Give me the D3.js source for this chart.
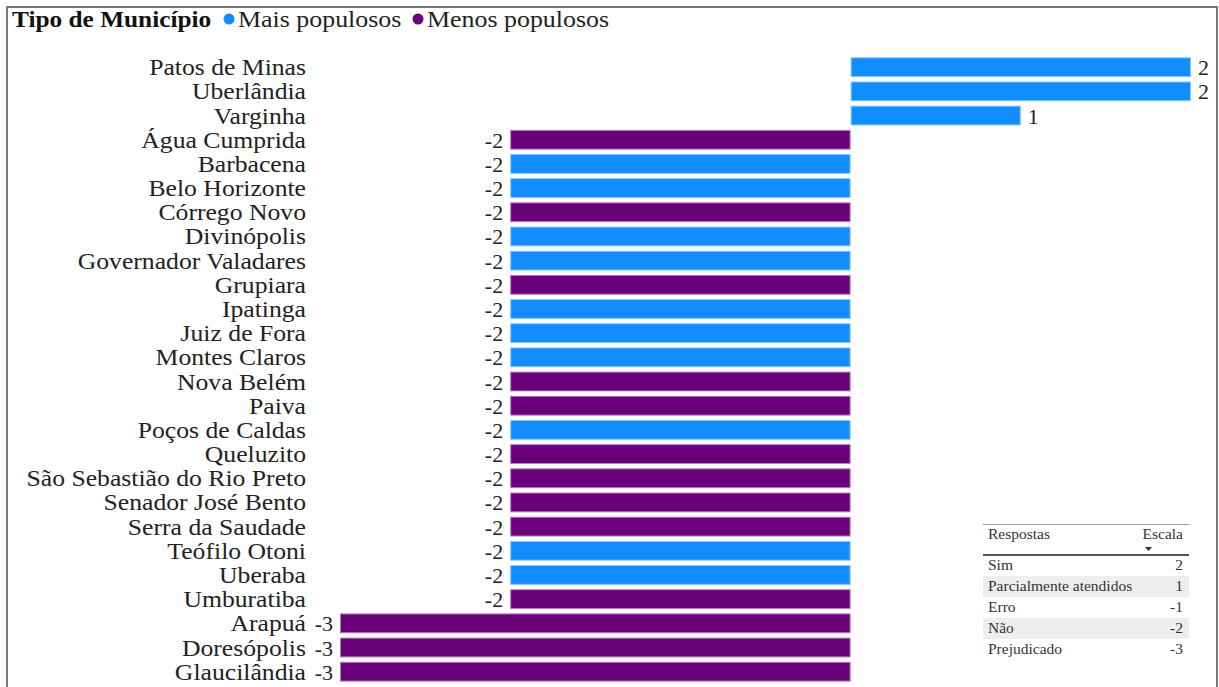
<!DOCTYPE html>
<html>
<head>
<meta charset="utf-8">
<script src="https://cdn.jsdelivr.net/npm/d3@7/dist/d3.min.js"></script>
<style>
  html, body { margin: 0; padding: 0; background: #fff; }
  svg { display: block; }
  text { font-family: "Liberation Serif", "Times New Roman", serif; }
</style>
</head>
<body>
<svg id="chart" width="1219" height="687"></svg>
<script>
// Municipalities, their score and their population group
const municipios = [
  "Patos de Minas", "Uberlândia", "Varginha", "Água Cumprida", "Barbacena",
  "Belo Horizonte", "Córrego Novo", "Divinópolis", "Governador Valadares",
  "Grupiara", "Ipatinga", "Juiz de Fora", "Montes Claros", "Nova Belém",
  "Paiva", "Poços de Caldas", "Queluzito", "São Sebastião do Rio Preto",
  "Senador José Bento", "Serra da Saudade", "Teófilo Otoni", "Uberaba",
  "Umburatiba", "Arapuá", "Doresópolis", "Glaucilândia"
];
const escala = [
  2, 2, 1, -2, -2,
  -2, -2, -2, -2,
  -2, -2, -2, -2, -2,
  -2, -2, -2, -2,
  -2, -2, -2, -2,
  -2, -3, -3, -3
];
const tipo = [
  "Mais", "Mais", "Mais", "Menos", "Mais",
  "Mais", "Menos", "Mais", "Mais",
  "Menos", "Mais", "Mais", "Mais", "Menos",
  "Menos", "Mais", "Menos", "Menos",
  "Menos", "Menos", "Mais", "Mais",
  "Menos", "Menos", "Menos", "Menos"
];

// Legend groups
const grupos = ["Mais", "Menos"];
const gruposRotulo = ["Mais populosos", "Menos populosos"];

// Answer scale reference table
const respostas = ["Sim", "Parcialmente atendidos", "Erro", "Não", "Prejudicado"];
const respostasValor = [2, 1, -1, -2, -3];

const data = municipios.map((m, i) => ({ nome: m, valor: escala[i], tipo: tipo[i] }));

const svg = d3.select("#chart");
const STRETCH = 1.07; // slightly wide serif lettering

const color = d3.scaleOrdinal().domain(grupos).range(["#118DFF", "#6B007B"]);
const stroke = d3.scaleOrdinal().domain(grupos).range(["#8cc6ff", "#b27fbb"]);

const x = d3.scaleLinear()
  .domain([d3.min(escala), d3.max(escala)])
  .range([340, 1191]);

const y = d3.scaleBand()
  .domain(municipios)
  .range([55.1, 55.1 + 24.18 * municipios.length])
  .paddingInner(0.18)
  .paddingOuter(0.09);

// Places a wide text at (px, py)
function wideText(sel, px, py, sx) {
  return sel.append("text")
    .attr("transform", `translate(${px},${py}) scale(${sx},1)`);
}

// Visual frame
svg.append("path")
  .attr("d", "M7,687 V7 H1217 V687")
  .attr("fill", "none")
  .attr("stroke", "#7a7a7a")
  .attr("stroke-width", 2);

// Legend
const legend = svg.append("g");
wideText(legend, 12, 27, 1.055)
  .attr("font-size", 24).attr("font-weight", "bold")
  .attr("fill", "#111")
  .text("Tipo de Município");
const legendX = [229, 418];
grupos.forEach((g, i) => {
  legend.append("circle")
    .attr("cx", legendX[i]).attr("cy", 19).attr("r", 5.5)
    .attr("fill", color(g));
  wideText(legend, legendX[i] + 9, 27, 1.08)
    .attr("font-size", 24).attr("fill", "#222")
    .text(gruposRotulo[i]);
});

// Bars
const bars = svg.append("g");
bars.selectAll("rect")
  .data(data)
  .join("rect")
  .attr("x", d => Math.min(x(0), x(d.valor)) + 0.5)
  .attr("y", d => y(d.nome) + 0.5)
  .attr("width", d => Math.abs(x(d.valor) - x(0)) - 1)
  .attr("height", y.bandwidth() - 1)
  .attr("fill", d => color(d.tipo))
  .attr("stroke", d => stroke(d.tipo))
  .attr("stroke-width", 1);

// Category labels
svg.append("g").selectAll("text")
  .data(data)
  .join("text")
  .attr("transform", d => `translate(306,${y(d.nome) + y.bandwidth() / 2 + 8}) scale(${STRETCH},1)`)
  .attr("text-anchor", "end")
  .attr("font-size", 24)
  .attr("fill", "#222")
  .text(d => d.nome);

// Value labels
svg.append("g").selectAll("text")
  .data(data)
  .join("text")
  .attr("x", d => d.valor >= 0 ? x(d.valor) + 7 : x(d.valor) - 7)
  .attr("y", d => y(d.nome) + y.bandwidth() / 2 + 8)
  .attr("text-anchor", d => d.valor >= 0 ? "start" : "end")
  .attr("font-size", 22)
  .attr("fill", "#222")
  .text(d => d.valor);

// Reference table
const tbl = svg.append("g");
const tLeft = 983, tRight = 1189, rowH = 21, rowTop = 555;
tbl.append("line")
  .attr("x1", tLeft).attr("x2", tRight).attr("y1", 524.5).attr("y2", 524.5)
  .attr("stroke", "#999").attr("stroke-width", 1);
tbl.append("text")
  .attr("x", tLeft + 5).attr("y", 539)
  .attr("font-size", 15.5).attr("fill", "#333")
  .text("Respostas");
tbl.append("text")
  .attr("x", tRight - 6).attr("y", 539)
  .attr("text-anchor", "end")
  .attr("font-size", 15.5).attr("fill", "#333")
  .text("Escala");
tbl.append("path")
  .attr("d", "M1145,547 L1152,547 L1148.5,551 Z")
  .attr("fill", "#333");
tbl.selectAll("rect.band")
  .data(respostas)
  .join("rect")
  .attr("class", "band")
  .attr("x", tLeft).attr("width", tRight - tLeft)
  .attr("y", (d, i) => rowTop + i * rowH)
  .attr("height", rowH)
  .attr("fill", (d, i) => i % 2 === 1 ? "#eeeeee" : "#ffffff");
tbl.append("line")
  .attr("x1", tLeft).attr("x2", tRight).attr("y1", 555).attr("y2", 555)
  .attr("stroke", "#555").attr("stroke-width", 2);
tbl.selectAll("text.rl")
  .data(respostas)
  .join("text")
  .attr("class", "rl")
  .attr("x", tLeft + 5)
  .attr("y", (d, i) => rowTop + i * rowH + 15)
  .attr("font-size", 15.5).attr("fill", "#333")
  .text(d => d);
tbl.selectAll("text.rv")
  .data(respostasValor)
  .join("text")
  .attr("class", "rv")
  .attr("x", tRight - 6)
  .attr("y", (d, i) => rowTop + i * rowH + 15)
  .attr("text-anchor", "end")
  .attr("font-size", 15.5).attr("fill", "#333")
  .text(d => d);
</script>
</body>
</html>
